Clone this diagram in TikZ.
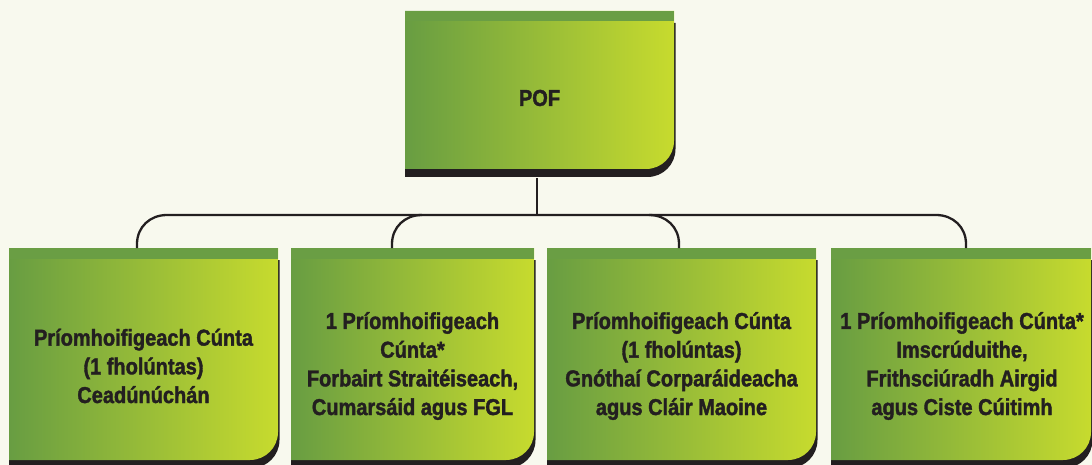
\documentclass[tikz,border=0pt]{standalone}
\usepackage{fontspec}
\setmainfont{Liberation Sans}[FakeStretch=0.87, BoldFeatures={FakeBold=1.6}]
\definecolor{bandg}{RGB}{106,158,68}
\definecolor{gl}{RGB}{104,157,66}
\definecolor{gr}{RGB}{199,219,46}
\definecolor{ink}{RGB}{35,31,32}
\definecolor{bgc}{RGB}{248,249,238}
% x1, y-top, x2, y-bottom (pixel coordinates, y downwards)
\newcommand\greenbox[4]{%
  \fill[ink] (#1,{#2+12}) -- ({#3+1.5},{#2+12}) -- ({#3+1.5},{#4+8-28})
    .. controls ({#3+1.5},{#4+8-12.5}) and ({#3+1.5-12.5},{#4+8}) .. ({#3+1.5-28},{#4+8})
    -- (#1,{#4+8}) -- cycle;
  \shade[left color=gl,right color=gr] (#1,#2) -- (#3,#2) -- (#3,{#4-28})
    .. controls (#3,{#4-12.5}) and ({#3-12.5},#4) .. ({#3-28},#4)
    -- (#1,#4) -- cycle;
  \fill[bandg] (#1,#2) rectangle (#3,{#2+10.5});
}
\tikzset{
  txt/.style={text=ink, align=center, inner sep=0pt,
    font=\bfseries\fontsize{23}{28.7}\selectfont},
  frame/.style={inner sep=0pt, draw=none},
  conn/.style={draw=ink, line width=2.3pt},
}
\begin{document}
\begin{tikzpicture}[x=1pt,y=-1pt]
\useasboundingbox (0,0) rectangle (1092,465);
\clip (0,0) rectangle (1092,465);
\fill[bgc] (0,0) rectangle (1092,465);

% box shapes
\greenbox{405}{11}{674}{169}
\greenbox{9}{248}{278}{460}
\greenbox{291}{248}{534}{460}
\greenbox{547}{248}{816}{460}
\greenbox{831}{248}{1091}{460}

% frames (anchors)
\node[frame, minimum width=269pt, minimum height=167pt] (pof) at (539.5,94.5) {};
\node[frame, minimum width=269pt, minimum height=212pt] (b1) at (143.5,354) {};
\node[frame, minimum width=243pt, minimum height=212pt] (b2) at (412.5,354) {};
\node[frame, minimum width=269pt, minimum height=212pt] (b3) at (681.5,354) {};
\node[frame, minimum width=260pt, minimum height=212pt] (b4) at (961,354) {};

% texts
\node[txt] (tpof) at (539.5,98) {POF};
\node[txt] (t1) at (143.5,366) {Príomhoifigeach Cúnta\\(1 fholúntas)\\Ceadúnúchán};
\node[txt] (t2) at (412.5,366) {1 Príomhoifigeach\\Cúnta*\\Forbairt Straitéiseach,\\Cumarsáid agus FGL};
\node[txt] (t3) at (681.5,366) {Príomhoifigeach Cúnta\\(1 fholúntas)\\Gnóthaí Corparáideacha\\agus Cláir Maoine};
\node[txt] (t4) at (962,366) {1 Príomhoifigeach Cúnta*\\Imscrúduithe,\\Frithsciúradh Airgid\\agus Ciste Cúitimh};

% connector coordinates
\coordinate (hub) at (537,215);
\coordinate (d1) at (137,248);
\coordinate (d2) at (392,248);
\coordinate (d3) at (679,248);
\coordinate (d4) at (966,248);

% connectors
\draw[conn] (hub |- pof.south) -- (hub);
\draw[conn] (d1) -- (137,244) .. controls (137,227) and (150,215) .. (167,215)
  -- (936,215) .. controls (953,215) and (966,227) .. (966,244) -- (d4);
\draw[conn] (d2) -- (392,244) .. controls (392,227) and (405,215) .. (422,215);
\draw[conn] (d3) -- (679,244) .. controls (679,227) and (666,215) .. (649,215);
\end{tikzpicture}
\end{document}
